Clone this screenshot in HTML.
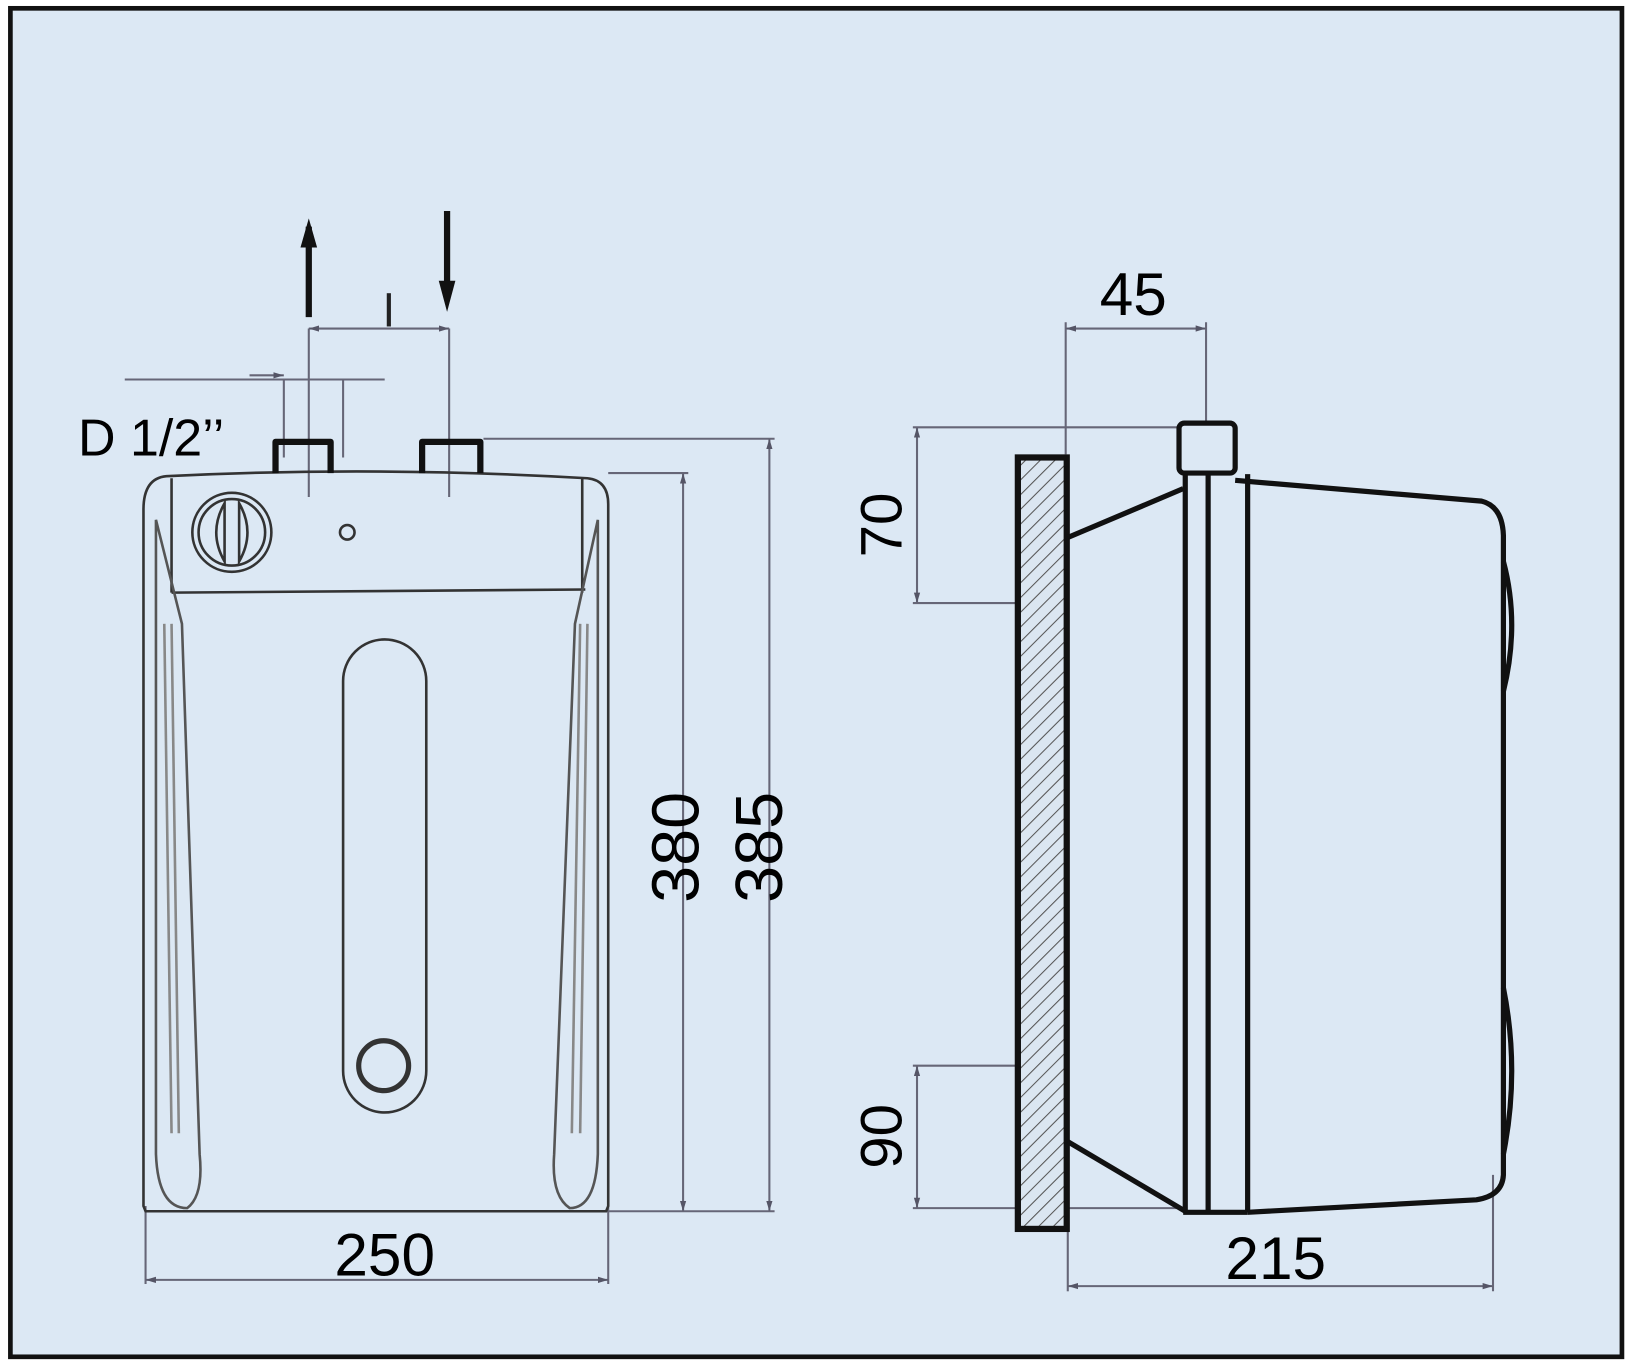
<!DOCTYPE html>
<html><head><meta charset="utf-8"><style>
html,body{margin:0;padding:0;background:#fff}
svg{display:block}
text{font-family:"Liberation Sans",sans-serif;fill:#000}
</style></head><body>
<svg width="1625" height="1363" viewBox="0 0 1625 1363" xmlns="http://www.w3.org/2000/svg">
<defs>
<pattern id="h" width="10" height="10" patternUnits="userSpaceOnUse" patternTransform="rotate(45)">
<rect width="10" height="10" fill="#dbe6f1"/><line x1="0" y1="0" x2="0" y2="10" stroke="#555" stroke-width="2"/>
</pattern>
<marker id="a" markerWidth="10" markerHeight="8" refX="10" refY="4" orient="auto-start-reverse" markerUnits="userSpaceOnUse"><path d="M0,1 L10,4 L0,7 Z" fill="#556"/></marker>
</defs>
<g transform="scale(1.0397)">
<rect x="10" y="8" width="1550" height="1297" fill="#dce8f4" stroke="#111" stroke-width="4.5"/>

<g stroke="#667" stroke-width="2" fill="none">
<line x1="297" y1="316" x2="297" y2="478"/><line x1="432" y1="316" x2="432" y2="478"/>
<line x1="297" y1="316" x2="432" y2="316" marker-start="url(#a)" marker-end="url(#a)"/>
<line x1="120" y1="365" x2="370" y2="365"/>
<line x1="273" y1="365" x2="273" y2="440"/><line x1="330" y1="365" x2="330" y2="440"/>
<line x1="240" y1="361" x2="273" y2="361" marker-end="url(#a)"/>
<line x1="465" y1="422" x2="745" y2="422"/><line x1="585" y1="455" x2="662" y2="455"/>
<line x1="585" y1="1165" x2="745" y2="1165"/>
<line x1="657" y1="455" x2="657" y2="1165" marker-start="url(#a)" marker-end="url(#a)"/>
<line x1="740" y1="422" x2="740" y2="1165" marker-start="url(#a)" marker-end="url(#a)"/>
<line x1="140" y1="1160" x2="140" y2="1235"/><line x1="585" y1="1160" x2="585" y2="1235"/>
<line x1="140" y1="1231" x2="585" y2="1231" marker-start="url(#a)" marker-end="url(#a)"/>
<line x1="1025" y1="310" x2="1025" y2="437"/><line x1="1160" y1="310" x2="1160" y2="405"/>
<line x1="1025" y1="316" x2="1160" y2="316" marker-start="url(#a)" marker-end="url(#a)"/>
<line x1="878" y1="411" x2="1132" y2="411"/><line x1="878" y1="580" x2="1000" y2="580"/>
<line x1="882" y1="411" x2="882" y2="580" marker-start="url(#a)" marker-end="url(#a)"/>
<line x1="878" y1="1025" x2="977" y2="1025"/><line x1="878" y1="1162" x2="1140" y2="1162"/>
<line x1="882" y1="1025" x2="882" y2="1162" marker-start="url(#a)" marker-end="url(#a)"/>
<line x1="1027" y1="1182" x2="1027" y2="1242"/><line x1="1436" y1="1130" x2="1436" y2="1242"/>
<line x1="1027" y1="1237" x2="1436" y2="1237" marker-start="url(#a)" marker-end="url(#a)"/>
</g>

<g stroke="#333" stroke-width="2.5" fill="none">
<path d="M160,458 Q360,448 565,460 Q585,462 585,485 L585,1160 L583,1165 L140,1165 L138,1160 L138,490 Q138,460 160,458 Z"/>
<line x1="165" y1="460" x2="165" y2="570"/><line x1="560" y1="460" x2="560" y2="570"/>
<line x1="165" y1="570" x2="563" y2="567"/>
<path d="M150,500 L150,1110 Q152,1162 180,1162 Q196,1150 192,1110 L175,600 Z" stroke="#555"/>
<path d="M575,500 L575,1110 Q573,1162 548,1162 Q530,1150 533,1110 L553,600 Z" stroke="#555"/>
<line x1="158" y1="600" x2="165" y2="1090" stroke="#888"/><line x1="165" y1="600" x2="172" y2="1090" stroke="#888"/>
<line x1="565" y1="600" x2="558" y2="1090" stroke="#888"/><line x1="558" y1="600" x2="550" y2="1090" stroke="#888"/>
<circle cx="223" cy="512" r="38"/><circle cx="223" cy="512" r="32"/>
<path d="M216,484 Q200,512 216,540 Z"/><path d="M230,484 Q246,512 230,540 Z"/>
<circle cx="334" cy="512" r="7"/>
<rect x="330" y="615" width="80" height="455" rx="40"/>
<circle cx="369" cy="1025" r="24" stroke-width="5"/>
</g>
<g stroke="#111" stroke-width="6" fill="none" stroke-linejoin="round">
<path d="M265,455 L265,425 L318,425 L318,455"/>
<path d="M406,455 L406,425 L462,425 L462,455"/>
</g>
<line x1="297" y1="218" x2="297" y2="305" stroke="#111" stroke-width="6"/>
<path d="M289,238 L297,210 L305,238 Z" fill="#111"/>
<line x1="430" y1="203" x2="430" y2="282" stroke="#111" stroke-width="6"/>
<path d="M422,270 L430,300 L438,270 Z" fill="#111"/>
<line x1="374" y1="282" x2="374" y2="314" stroke="#222" stroke-width="4"/>

<rect x="979" y="440" width="47" height="742" fill="url(#h)" stroke="#111" stroke-width="6"/>
<g stroke="#111" stroke-width="5" fill="none" stroke-linejoin="round">
<rect x="1134" y="407" width="54" height="48" rx="5"/>
<line x1="1027" y1="517" x2="1138" y2="470"/>
<line x1="1027" y1="1098" x2="1140" y2="1165"/>
<line x1="1140" y1="456" x2="1140" y2="1166"/>
<line x1="1162" y1="456" x2="1162" y2="1166"/>
<line x1="1200" y1="456" x2="1200" y2="1166"/>
<line x1="1138" y1="1166" x2="1200" y2="1166"/>
<path d="M1188,462 L1425,482 Q1445,487 1446,515 L1446,1130 Q1445,1150 1420,1154 L1200,1166"/>
<path d="M1446,540 Q1462,600 1446,665"/>
<path d="M1446,950 Q1462,1030 1446,1110"/>
</g>

<text x="75" y="438" font-size="50">D 1/2’’</text>
<text x="1090" y="303" font-size="58" text-anchor="middle">45</text>
<text x="370" y="1227" font-size="58" text-anchor="middle">250</text>
<text x="1227" y="1230" font-size="58" text-anchor="middle">215</text>
<text transform="translate(672,815) rotate(-90)" font-size="64" text-anchor="middle">380</text>
<text transform="translate(752,815) rotate(-90)" font-size="64" text-anchor="middle">385</text>
<text transform="translate(867,505) rotate(-90)" font-size="56" text-anchor="middle">70</text>
<text transform="translate(867,1093) rotate(-90)" font-size="56" text-anchor="middle">90</text>
</g>
</svg>
</body></html>
